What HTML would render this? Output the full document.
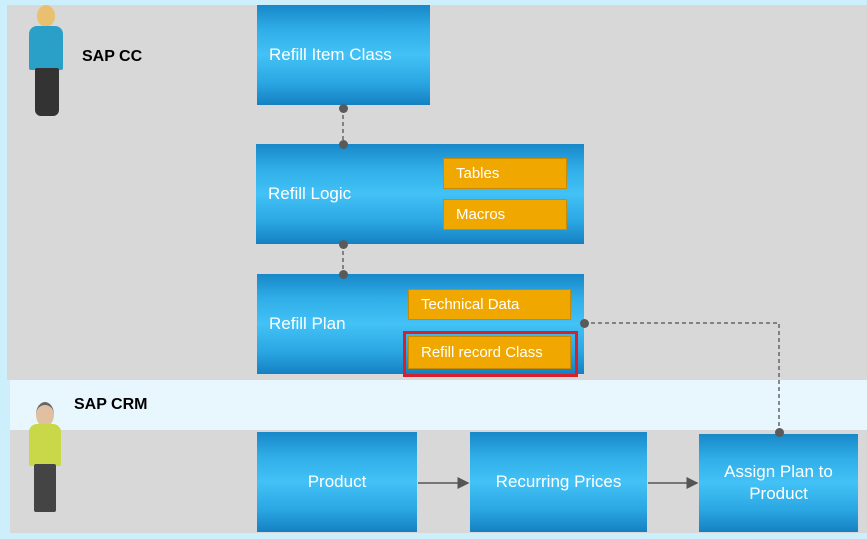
<!DOCTYPE html><html><head><style>
body{margin:0;width:867px;height:539px;position:relative;overflow:hidden;background:#cdeefb;font-family:"Liberation Sans",sans-serif}
.a{position:absolute}
.b{position:absolute;background:linear-gradient(#1888c8 0%,#30aee8 25%,#42c2f6 50%,#2aa6e2 78%,#1580c2 100%);color:#fff;font-size:17px;display:flex;align-items:center}
.o{position:absolute;background:#f0a800;border:1px solid #c98a00;color:#fff;font-size:15px;display:flex;align-items:center;padding-left:12px;box-sizing:border-box}
.d{position:absolute;width:9px;height:9px;border-radius:50%;background:#5a5a5a}
.l{font-weight:bold;font-size:16px;color:#000}
</style></head><body>
<div class="a" style="left:7px;top:5px;width:860px;height:375px;background:#d8d8d8"></div>
<div class="a" style="left:10px;top:380px;width:857px;height:50px;background:#e8f7fd"></div>
<div class="a" style="left:10px;top:430px;width:857px;height:103px;background:#d8d8d8"></div>
<div class="a l" style="left:82px;top:48px">SAP CC</div>
<div class="a l" style="left:74px;top:396px">SAP CRM</div>
<!-- people -->
<div class="a" style="left:37px;top:5px;width:18px;height:22px;border-radius:50%;background:#e8c070"></div>
<div class="a" style="left:29px;top:26px;width:34px;height:44px;border-radius:8px 8px 2px 2px;background:#2aa0c8"></div>
<div class="a" style="left:35px;top:68px;width:24px;height:48px;border-radius:2px 2px 6px 6px;background:#333"></div>
<div class="a" style="left:36px;top:402px;width:18px;height:22px;border-radius:50%;background:#e0c0a0;border-top:3px solid #666"></div>
<div class="a" style="left:29px;top:424px;width:32px;height:42px;border-radius:8px 8px 2px 2px;background:#c8d848"></div>
<div class="a" style="left:34px;top:464px;width:22px;height:48px;border-radius:2px;background:#444"></div>
<!-- boxes -->
<div class="b" style="left:257px;top:5px;width:173px;height:100px;padding-left:12px;box-sizing:border-box">Refill Item Class</div>
<div class="b" style="left:256px;top:144px;width:328px;height:100px;padding-left:12px;box-sizing:border-box">Refill Logic</div>
<div class="o" style="left:443px;top:158px;width:124px;height:31px">Tables</div>
<div class="o" style="left:443px;top:199px;width:124px;height:31px">Macros</div>
<div class="b" style="left:257px;top:274px;width:327px;height:100px;padding-left:12px;box-sizing:border-box">Refill Plan</div>
<div class="o" style="left:408px;top:289px;width:163px;height:31px">Technical Data</div>
<div class="a" style="left:403px;top:331px;width:169px;height:40px;border:3px solid #d8202c"></div>
<div class="o" style="left:408px;top:336px;width:163px;height:33px">Refill record Class</div>
<div class="b" style="left:257px;top:432px;width:160px;height:100px;justify-content:center">Product</div>
<div class="b" style="left:470px;top:432px;width:177px;height:100px;justify-content:center">Recurring Prices</div>
<div class="b" style="left:699px;top:434px;width:159px;height:98px;justify-content:center;text-align:center;line-height:22px">Assign Plan to<br>Product</div>
<svg class="a" style="left:0;top:0" width="867" height="539">
<defs><marker id="m" markerWidth="8" markerHeight="8" refX="7" refY="4" orient="auto"><path d="M0,0L8,4L0,8z" fill="#555"/></marker></defs>
<g stroke="#666" stroke-width="1.5" stroke-dasharray="4,3" fill="none">
<path d="M343 108V144M343 244V274M584 323H779V432"/></g>
<g stroke="#555" stroke-width="1.5"><path d="M418 483H468" marker-end="url(#m)"/><path d="M648 483H697" marker-end="url(#m)"/></g>
</svg>
<div class="d" style="left:339px;top:104px"></div><div class="d" style="left:339px;top:140px"></div>
<div class="d" style="left:339px;top:240px"></div><div class="d" style="left:339px;top:270px"></div>
<div class="d" style="left:580px;top:319px"></div><div class="d" style="left:775px;top:428px"></div>
</body></html>
